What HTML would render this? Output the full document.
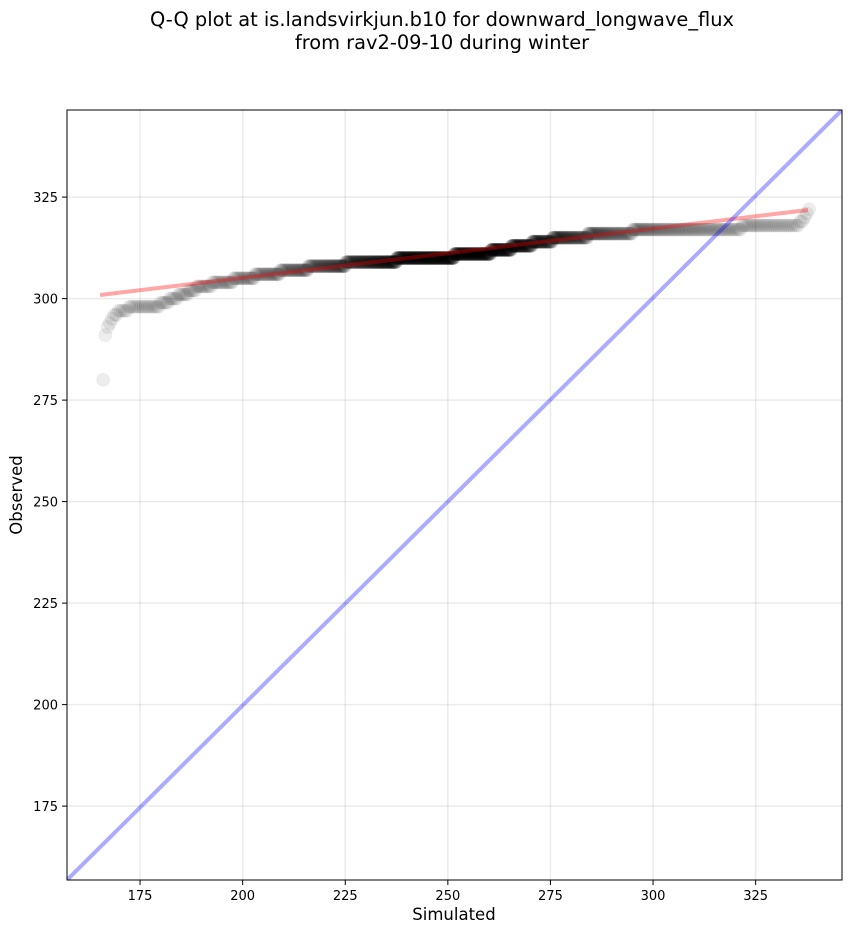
<!DOCTYPE html>
<html><head><meta charset="utf-8"><style>
body{margin:0;background:#fff;}
svg{display:block;font-family:"DejaVu Sans","Liberation Sans",sans-serif;}
</style></head><body>
<svg id="s" width="851" height="934" xmlns="http://www.w3.org/2000/svg">
<rect width="851" height="934" fill="#fff"/>
<text x="442" y="26" font-size="19.4" text-anchor="middle">Q-Q plot at is.landsvirkjun.b10 for downward_longwave_flux</text>
<text x="442" y="49" font-size="19.4" text-anchor="middle">from rav2-09-10 during winter</text>
<defs><clipPath id="c"><rect x="67" y="110" width="775" height="770"/></clipPath></defs>
<g id="grid" stroke="#000" stroke-opacity="0.08" stroke-width="1.5"></g>
<g id="pts" clip-path="url(#c)"></g>
<g clip-path="url(#c)">
<line x1="100" y1="295" x2="808" y2="210" stroke="#f00" stroke-opacity="0.35" stroke-width="4"/>
<line x1="67" y1="880" x2="842" y2="110" stroke="#00f" stroke-opacity="0.33" stroke-width="4"/>
</g>
<rect x="67" y="110" width="775" height="770" fill="none" stroke="#000" stroke-width="1"/>
<g id="ticks" font-size="13"></g>
<text x="454" y="920" font-size="16.5" text-anchor="middle">Simulated</text>
<text transform="translate(22,495) rotate(-90)" font-size="16.5" text-anchor="middle">Observed</text>
</svg>
<script>
var ns="http://www.w3.org/2000/svg";
function X(v){return 67+(v-157.2)*4.104;}
function Y(v){return 880-(v-156.8)*4.06;}
function el(n,a,p){var e=document.createElementNS(ns,n);for(var k in a)e.setAttribute(k,a[k]);p.appendChild(e);return e;}
var g=document.getElementById('grid'),t=document.getElementById('ticks'),pts=document.getElementById('pts');
[175,200,225,250,275,300,325].forEach(function(v){
 var x=X(v),y=Y(v);
 el('line',{x1:x,x2:x,y1:110,y2:880},g);
 el('line',{x1:67,x2:842,y1:y,y2:y},g);
 el('line',{x1:x,x2:x,y1:880,y2:885,stroke:'#000'},t);
 el('line',{x1:62,x2:67,y1:y,y2:y,stroke:'#000'},t);
 el('text',{x:x,y:900,'text-anchor':'middle'},t).textContent=v;
 el('text',{x:58,y:y+5,'text-anchor':'end'},t).textContent=v;
});
var K=[[166,280],[166.3,289],[166.6,291],[167,293],[168,295],[170,297],[174,298],[180,298.5],[183,300],[190,303],[200,305],[212,307],[220,308],[230,309],[245,310],[258,311],[268,313],[278,315],[290,316],[300,317],[318,317],[325,318],[335,318],[337,320],[338,322]];
function obs(s){for(var i=1;i<K.length;i++){if(s<=K[i][0]){var a=K[i-1],b=K[i];var f=(s-a[0])/(b[0]-a[0]||1);return a[1]+f*(b[1]-a[1]);}}return 322;}
var N=1000;
for(var i=0;i<N;i++){
 var u=-1+2*i/(N-1);
 var s=252+86*(0.45*u+0.55*Math.pow(u,5));
 var o=obs(s);
 el('circle',{cx:X(s),cy:Y(Math.round(o)),r:6.5,fill:'#000','fill-opacity':0.07,stroke:'#000','stroke-opacity':0.04},pts);
}
</script>
</body></html>
